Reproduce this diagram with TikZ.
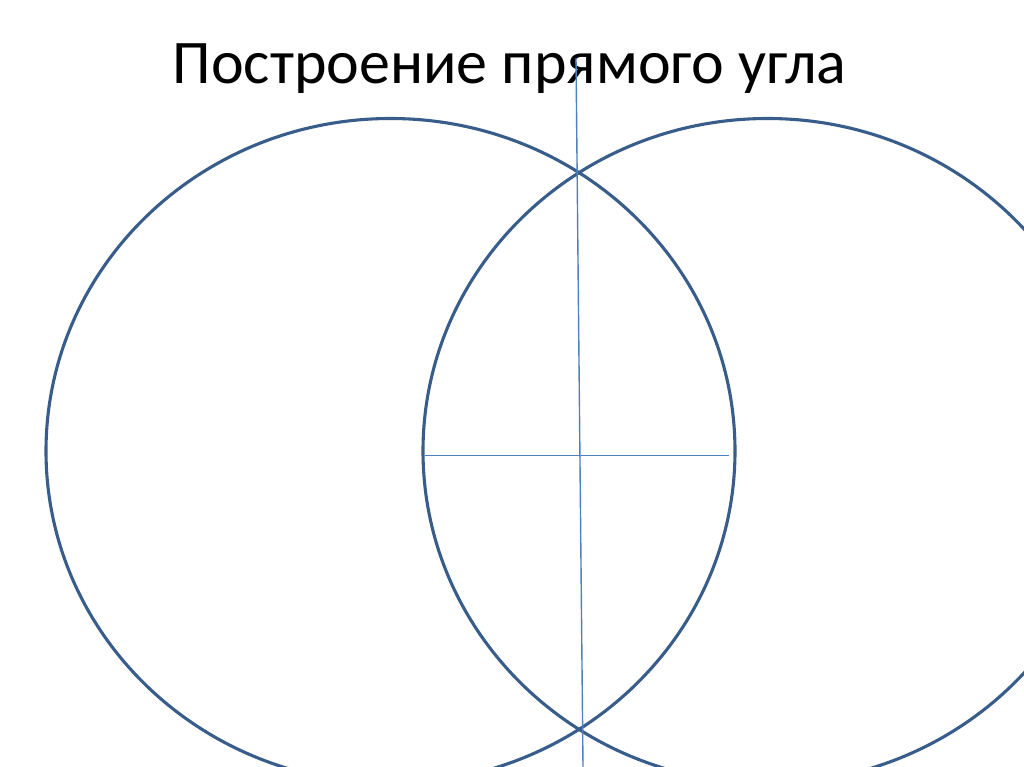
\documentclass[tikz,border=0pt]{standalone}
\usepackage{fontspec}
\setmainfont{Carlito}
\definecolor{circ}{HTML}{385D8A}
\definecolor{lineb}{HTML}{4F81BD}
\begin{document}
\begin{tikzpicture}[x=1pt,y=-1pt,
  circstyle/.style={draw=circ,line width=3.1pt},
  linestyle/.style={draw=lineb,line width=1.4pt},
  titlestyle/.style={font=\fontsize{62}{62}\selectfont,text=black,inner sep=0pt,anchor=base west}]
\useasboundingbox[fill=white] (0,0) rectangle (1024,767);
\begin{scope}
\clip (0,0) rectangle (1024,767);
\draw[circstyle] (390.5,451) ellipse [x radius=344.5,y radius=332.5];
\draw[circstyle] (767.5,451) ellipse [x radius=344.5,y radius=332.5];
\end{scope}
\node[titlestyle] (title) at (172.5,83.5) {Построение прямого угла};
\coordinate (vtop) at (576,58);
\coordinate (vbot) at (583,767);
\coordinate (hl) at (425,455.5);
\coordinate (hr) at (729,455.5);
\draw[linestyle] (vtop) -- (vbot);
\draw[linestyle] (hl) -- (hr);
\end{tikzpicture}
\end{document}
